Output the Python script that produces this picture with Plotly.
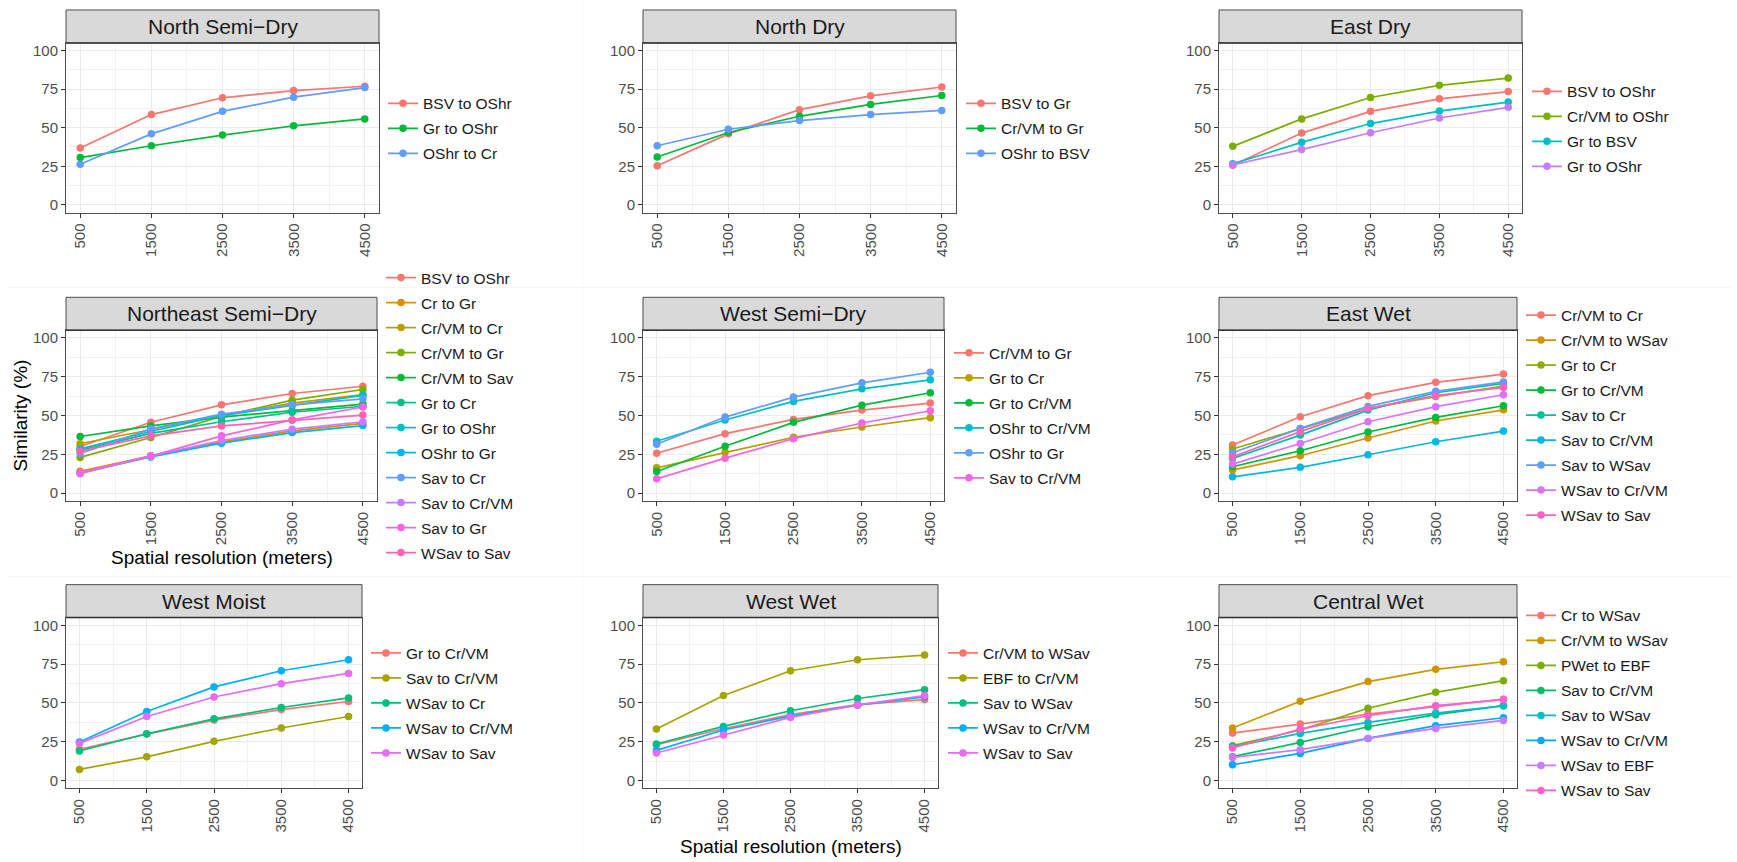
import plotly.graph_objects as go

W, H = 1737, 862

# Spatial resolutions (x axis) and their labels
resolution = [500, 1500, 2500, 3500, 4500]
resolution_labels = ["500", "1500", "2500", "3500", "4500"]
similarity_ticks = [0, 25, 50, 75, 100]

# ---- North Semi-Dry ----
nsd_names = ["BSV to OShr", "Gr to OShr", "OShr to Cr"]
nsd_bsv_oshr = [36.8, 58.5, 69.4, 74.1, 76.9]
nsd_gr_oshr = [30.6, 38.3, 45.2, 51.2, 55.7]
nsd_oshr_cr = [26.3, 46.0, 60.6, 69.8, 76.0]

# ---- North Dry ----
nd_names = ["BSV to Gr", "Cr/VM to Gr", "OShr to BSV"]
nd_bsv_gr = [25.3, 46.0, 61.7, 70.7, 76.4]
nd_crvm_gr = [31.0, 46.9, 57.4, 65.1, 70.9]
nd_oshr_bsv = [38.3, 49.0, 54.6, 58.5, 61.2]

# ---- East Dry ----
ed_names = ["BSV to OShr", "Cr/VM to OShr", "Gr to BSV", "Gr to OShr"]
ed_bsv_oshr = [25.7, 46.5, 60.6, 68.7, 73.4]
ed_crvm_oshr = [37.9, 55.7, 69.6, 77.5, 82.2]
ed_gr_bsv = [26.6, 40.5, 52.7, 60.8, 66.6]
ed_gr_oshr = [25.9, 35.8, 46.7, 56.3, 63.2]

# ---- Northeast Semi-Dry ----
nesd_names = ["BSV to OShr", "Cr to Gr", "Cr/VM to Cr", "Cr/VM to Gr",
              "Cr/VM to Sav", "Gr to Cr", "Gr to OShr", "OShr to Gr",
              "Sav to Cr", "Sav to Cr/VM", "Sav to Gr", "WSav to Sav"]
nesd_bsv_oshr = [30.0, 45.7, 56.9, 64.2, 68.9]
nesd_cr_gr = [14.0, 24.0, 33.0, 40.1, 45.0]
nesd_crvm_cr = [31.8, 41.0, 50.0, 58.0, 63.5]
nesd_crvm_gr = [23.0, 35.8, 49.5, 59.9, 66.8]
nesd_crvm_sav = [36.5, 43.3, 49.0, 53.0, 57.4]
nesd_gr_cr = [27.5, 38.5, 46.0, 52.1, 56.0]
nesd_gr_oshr = [28.5, 39.7, 50.0, 56.5, 63.0]
nesd_oshr_gr = [13.0, 23.3, 32.2, 39.0, 43.5]
nesd_sav_cr = [25.5, 41.4, 50.9, 56.9, 60.8]
nesd_sav_crvm = [12.5, 24.0, 33.9, 41.2, 46.0]
nesd_sav_gr = [13.3, 23.8, 36.9, 47.2, 55.5]
nesd_wsav_sav = [27.0, 36.9, 43.3, 47.0, 50.3]

# ---- West Semi-Dry ----
wsd_names = ["Cr/VM to Gr", "Gr to Cr", "Gr to Cr/VM", "OShr to Cr/VM",
             "OShr to Gr", "Sav to Cr/VM"]
wsd_crvm_gr = [25.7, 38.3, 47.5, 53.5, 58.0]
wsd_gr_cr = [16.3, 26.3, 36.0, 42.6, 48.6]
wsd_gr_crvm = [13.9, 30.2, 45.6, 56.7, 64.7]
wsd_oshr_crvm = [33.4, 47.1, 59.1, 67.2, 73.0]
wsd_oshr_gr = [31.5, 49.0, 61.9, 71.1, 77.9]
wsd_sav_crvm = [9.2, 22.5, 35.1, 45.2, 53.1]

# ---- East Wet ----
ew_names = ["Cr/VM to Cr", "Cr/VM to WSav", "Gr to Cr", "Gr to Cr/VM",
            "Sav to Cr", "Sav to Cr/VM", "Sav to WSav", "WSav to Cr/VM",
            "WSav to Sav"]
ew_crvm_cr = [31.0, 49.2, 62.8, 71.4, 76.7]
ew_crvm_wsav = [14.8, 24.1, 35.5, 46.5, 53.7]
ew_gr_cr = [28.4, 41.7, 54.6, 62.2, 69.0]
ew_gr_crvm = [17.0, 27.3, 39.4, 48.8, 56.3]
ew_sav_cr = [22.4, 37.4, 53.5, 64.7, 70.7]
ew_sav_crvm = [10.5, 16.6, 24.7, 33.1, 40.0]
ew_sav_wsav = [26.0, 41.7, 55.9, 65.6, 71.7]
ew_wsav_crvm = [18.7, 32.0, 46.0, 55.7, 63.4]
ew_wsav_sav = [23.4, 39.6, 54.6, 62.8, 68.1]

# ---- West Moist ----
wm_names = ["Gr to Cr/VM", "Sav to Cr/VM", "WSav to Cr", "WSav to Cr/VM",
            "WSav to Sav"]
wm_gr_crvm = [20.1, 29.9, 38.9, 45.7, 50.9]
wm_sav_crvm = [7.1, 15.2, 25.2, 33.8, 41.2]
wm_wsav_cr = [19.0, 30.1, 39.7, 47.0, 53.2]
wm_wsav_crvm = [24.8, 44.4, 60.3, 70.7, 77.8]
wm_wsav_sav = [23.9, 41.2, 53.8, 62.4, 69.0]

# ---- West Wet ----
ww_names = ["Cr/VM to WSav", "EBF to Cr/VM", "Sav to WSav", "WSav to Cr/VM",
            "WSav to Sav"]
ww_crvm_wsav = [23.1, 33.3, 42.5, 48.9, 52.1]
ww_ebf_crvm = [33.1, 54.7, 70.7, 77.8, 80.8]
ww_sav_wsav = [23.5, 34.8, 44.9, 52.8, 58.5]
ww_wsav_crvm = [19.4, 32.5, 41.5, 48.5, 53.8]
ww_wsav_sav = [17.7, 29.3, 40.6, 48.7, 54.7]

# ---- Central Wet ----
cw_names = ["Cr to WSav", "Cr/VM to WSav", "PWet to EBF", "Sav to Cr/VM",
            "Sav to WSav", "WSav to Cr/VM", "WSav to EBF", "WSav to Sav"]
cw_cr_wsav = [30.5, 36.3, 42.8, 47.8, 52.4]
cw_crvm_wsav = [33.8, 51.0, 63.7, 71.6, 76.5]
cw_pwet_ebf = [22.4, 32.5, 46.5, 56.8, 64.3]
cw_sav_crvm = [15.3, 24.5, 34.6, 42.4, 48.2]
cw_sav_wsav = [21.7, 30.3, 37.4, 43.4, 48.1]
cw_wsav_crvm = [10.1, 17.4, 27.1, 35.3, 40.4]
cw_wsav_ebf = [14.8, 19.8, 27.1, 33.5, 38.7]
cw_wsav_sav = [20.9, 33.1, 41.7, 48.2, 52.1]

# Discrete hue palettes (ggplot2 defaults) keyed by number of series
HUES = {
    3: ["#F8766D", "#00BA38", "#619CFF"],
    4: ["#F8766D", "#7CAE00", "#00BFC4", "#C77CFF"],
    5: ["#F8766D", "#A3A500", "#00BF7D", "#00B0F6", "#E76BF3"],
    6: ["#F8766D", "#B79F00", "#00BA38", "#00BFC4", "#619CFF", "#F564E3"],
    8: ["#F8766D", "#CD9600", "#7CAE00", "#00BE67", "#00BFC4", "#00A9FF",
        "#C77CFF", "#FF61CC"],
    9: ["#F8766D", "#D39200", "#93AA00", "#00BA38", "#00C19F", "#00B9E3",
        "#619CFF", "#DB72FB", "#FF61C3"],
    12: ["#F8766D", "#DE8C00", "#B79F00", "#7CAE00", "#00BA38", "#00C08B",
         "#00BFC4", "#00B4F0", "#619CFF", "#C77CFF", "#F564E3", "#FF64B0"],
}

# Panel definitions: title, series names, series values,
# panel box in pixels (left, top, right, bottom), strip top, legend text x, legend center y
panels = [
    ("North Semi\u2212Dry", nsd_names, [nsd_bsv_oshr, nsd_gr_oshr, nsd_oshr_cr],
     (66, 42, 379, 212), 9, 423, 128),
    ("North Dry", nd_names, [nd_bsv_gr, nd_crvm_gr, nd_oshr_bsv],
     (643, 42, 956, 212), 9, 1001, 128),
    ("East Dry", ed_names, [ed_bsv_oshr, ed_crvm_oshr, ed_gr_bsv, ed_gr_oshr],
     (1219, 42, 1522, 212), 9, 1567, 128.5),
    ("Northeast Semi\u2212Dry", nesd_names,
     [nesd_bsv_oshr, nesd_cr_gr, nesd_crvm_cr, nesd_crvm_gr, nesd_crvm_sav,
      nesd_gr_cr, nesd_gr_oshr, nesd_oshr_gr, nesd_sav_cr, nesd_sav_crvm,
      nesd_sav_gr, nesd_wsav_sav],
     (66, 330, 377, 501), 297, 421, 415.5),
    ("West Semi\u2212Dry", wsd_names,
     [wsd_crvm_gr, wsd_gr_cr, wsd_gr_crvm, wsd_oshr_crvm, wsd_oshr_gr, wsd_sav_crvm],
     (643, 330, 944, 501), 297, 989, 415.7),
    ("East Wet", ew_names,
     [ew_crvm_cr, ew_crvm_wsav, ew_gr_cr, ew_gr_crvm, ew_sav_cr, ew_sav_crvm,
      ew_sav_wsav, ew_wsav_crvm, ew_wsav_sav],
     (1219, 330, 1517, 501), 297, 1561, 415.5),
    ("West Moist", wm_names,
     [wm_gr_crvm, wm_sav_crvm, wm_wsav_cr, wm_wsav_crvm, wm_wsav_sav],
     (66, 618, 362, 789), 585, 406, 704),
    ("West Wet", ww_names,
     [ww_crvm_wsav, ww_ebf_crvm, ww_sav_wsav, ww_wsav_crvm, ww_wsav_sav],
     (643, 618, 938, 789), 585, 983, 704),
    ("Central Wet", cw_names,
     [cw_cr_wsav, cw_crvm_wsav, cw_pwet_ebf, cw_sav_crvm, cw_sav_wsav,
      cw_wsav_crvm, cw_wsav_ebf, cw_wsav_sav],
     (1219, 618, 1517, 789), 585, 1561, 704),
]

FONT = "Liberation Sans, Arial, Helvetica, sans-serif"
LEGEND_FONT_SIZE = 15.5
LEGEND_ROW = 25  # pixel pitch between legend entries


def fx(px):
    return px / W


def fy(py):
    return 1 - py / H


fig = go.Figure()
layout = dict(
    width=W, height=H,
    margin=dict(l=0, r=0, t=0, b=0),
    paper_bgcolor="white", plot_bgcolor="white",
    font=dict(family=FONT, color="#1A1A1A"),
    shapes=[], annotations=[],
)

# faint cell separators of the arranged grid
for y in (287, 577):
    layout["shapes"].append(dict(
        type="line", xref="paper", yref="paper", layer="below",
        x0=fx(7), x1=fx(1731), y0=fy(y), y1=fy(y),
        line=dict(color="#F5F5F5", width=1),
    ))
layout["shapes"].append(dict(
    type="line", xref="paper", yref="paper", layer="below",
    x0=fx(583), x1=fx(583), y0=fy(0), y1=fy(862),
    line=dict(color="#F7F7F7", width=1),
))

# legend row height from plotly: font*1.3 + 3; pad each entry up to LEGEND_ROW
group_gap = max(0.0, LEGEND_ROW - (LEGEND_FONT_SIZE * 1.3 + 3))

for i, (title, names, series, box, strip_top, leg_text_x, leg_cy) in enumerate(panels):
    k = i + 1
    sfx = "" if k == 1 else str(k)
    xa, ya = "x" + sfx, "y" + sfx
    leg = "legend" + sfx
    left, top, right, bottom = box
    colors = HUES[len(names)]

    for j, (name, vals, col) in enumerate(zip(names, series, colors)):
        fig.add_trace(go.Scatter(
            x=resolution, y=vals, name=name, mode="lines+markers",
            line=dict(color=col, width=1.7),
            marker=dict(color=col, size=7.5),
            xaxis=xa, yaxis=ya, legend=leg, showlegend=True,
            legendgroup=f"p{k}s{j}",
        ))

    axis_common = dict(
        showline=True, mirror=True, linecolor="#4D4D4D", linewidth=1,
        ticks="outside", ticklen=4, tickwidth=1, tickcolor="#333333",
        tickfont=dict(family=FONT, size=15, color="#4D4D4D"),
        showgrid=True, gridcolor="#EBEBEB", gridwidth=1,
        zeroline=False, fixedrange=True,
    )
    layout["xaxis" + sfx] = dict(
        axis_common,
        domain=[fx(left), fx(right)], anchor=ya,
        range=[300, 4700],
        tickmode="array", tickvals=resolution, ticktext=resolution_labels,
        tickangle=-90,
        minor=dict(tickmode="array", tickvals=[1000, 2000, 3000, 4000],
                   showgrid=True, gridcolor="#F2F2F2", gridwidth=1, ticks=""),
    )
    layout["yaxis" + sfx] = dict(
        axis_common,
        domain=[fy(bottom), fy(top)], anchor=xa,
        range=[-5, 105],
        tickmode="array", tickvals=similarity_ticks,
        ticktext=[str(t) for t in similarity_ticks],
        minor=dict(tickmode="array", tickvals=[12.5, 37.5, 62.5, 87.5],
                   showgrid=True, gridcolor="#F2F2F2", gridwidth=1, ticks=""),
    )
    layout[leg] = dict(
        x=fx(leg_text_x - 40), y=fy(leg_cy), xanchor="left", yanchor="middle",
        bgcolor="rgba(0,0,0,0)", borderwidth=0,
        font=dict(family=FONT, size=LEGEND_FONT_SIZE, color="#1A1A1A"),
        tracegroupgap=group_gap,
    )

    # facet strip above the panel
    layout["shapes"].append(dict(
        type="rect", xref="paper", yref="paper",
        x0=fx(left), x1=fx(right), y0=fy(top), y1=fy(strip_top),
        fillcolor="#D9D9D9", line=dict(color="#4D4D4D", width=1), layer="above",
    ))
    layout["shapes"].append(dict(
        type="line", xref="paper", yref="paper",
        x0=fx(left), x1=fx(right), y0=fy(top), y1=fy(top),
        line=dict(color="#333333", width=1.5), layer="above",
    ))
    layout["annotations"].append(dict(
        text=title, xref="paper", yref="paper",
        x=fx((left + right) / 2), y=fy((strip_top + top) / 2),
        xanchor="center", yanchor="middle", showarrow=False,
        font=dict(family=FONT, size=21, color="#1A1A1A"),
    ))

# shared axis titles
layout["annotations"].append(dict(
    text="Similarity (%)", xref="paper", yref="paper",
    x=fx(21), y=fy(415.5), xanchor="center", yanchor="middle",
    textangle=-90, showarrow=False,
    font=dict(family=FONT, size=19, color="#000000"),
))
for cx, cy in [(221.5, 558), (790.5, 847)]:
    layout["annotations"].append(dict(
        text="Spatial resolution (meters)", xref="paper", yref="paper",
        x=fx(cx), y=fy(cy), xanchor="center", yanchor="middle", showarrow=False,
        font=dict(family=FONT, size=19, color="#000000"),
    ))

fig.update_layout(**layout)
fig.write_html("out.html")
